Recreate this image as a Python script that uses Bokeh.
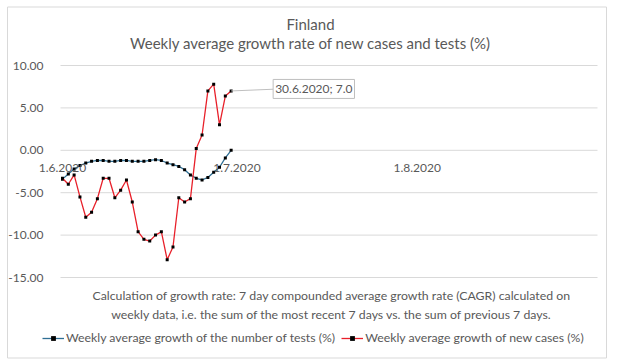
import pandas as pd
from bokeh.plotting import figure
from bokeh.models import (ColumnDataSource, Range1d, FixedTicker, NumeralTickFormatter,
                          CustomJSTickFormatter, Legend, LegendItem, Label)
from bokeh.embed import file_html
from bokeh.resources import INLINE

# ---------------- data ----------------
dates = pd.date_range("2020-06-01", "2020-06-30", freq="D")
tests_growth = [-3.4, -2.8, -2.2, -1.8, -1.5, -1.3, -1.2, -1.2, -1.3, -1.3,
                -1.2, -1.2, -1.3, -1.3, -1.3, -1.2, -1.1, -1.2, -1.5, -1.7,
                -1.9, -2.3, -2.9, -3.3, -3.5, -3.2, -2.6, -2.0, -0.9, 0.0]
cases_growth = [-3.3, -4.0, -2.9, -5.5, -7.9, -7.3, -5.7, -3.3, -3.3, -5.6,
                -4.7, -3.5, -6.1, -9.6, -10.5, -10.7, -10.0, -9.6, -12.9, -11.4,
                -5.6, -6.1, -5.7, 0.2, 1.8, 7.0, 7.8, 3.0, 6.4, 7.0]
x_tick_dates = ["2020-06-01", "2020-07-01", "2020-08-01"]
x_start, x_end = pd.Timestamp("2020-06-01"), pd.Timestamp("2020-09-01")
y_ticks = [-15, -10, -5, 0, 5, 10]
title_lines = ["Finland", "Weekly average growth rate of new cases and tests (%)"]
note_lines = ["Calculation of growth rate: 7 day compounded average growth rate (CAGR) calculated on",
              "weekly data, i.e. the sum of the most recent 7 days vs. the sum of previous 7 days."]
series_names = ["Weekly average growth of the number of tests (%)",
                "Weekly average growth of new cases (%)"]
label_text = "30.6.2020; 7.0"

FONT = "Lato"
GREY = "#595959"
GRID = "#D9D9D9"
BLUE = "#2F6F94"
RED = "#E8202A"

# ---------------- layout (pixels) ----------------
W, H = 612, 359                 # the frame covers the whole figure
X0_PX, X1_PX = 62, 597          # pixel columns of x_start and x_end
TOP_PX, BOT_PX = 65, 277        # pixel rows of the top and bottom gridlines
span_days = (x_end - x_start).days
ppd = (X1_PX - X0_PX) / span_days
ppu = (BOT_PX - TOP_PX) / (y_ticks[-1] - y_ticks[0])

def px_to_x(px):
    return x_start + pd.Timedelta(days=(px - X0_PX) / ppd)

def py_to_y(py):
    return y_ticks[-1] - (py - TOP_PX) / ppu

src = ColumnDataSource(dict(date=dates, tests=tests_growth, cases=cases_growth))

p = figure(frame_width=W, frame_height=H, output_backend="svg", toolbar_location=None,
           x_axis_type="datetime",
           x_range=Range1d(px_to_x(0), px_to_x(W)),
           y_range=Range1d(py_to_y(H), py_to_y(0)),
           min_border_left=0, min_border_right=0, min_border_top=0, min_border_bottom=0)
p.outline_line_color = None
p.background_fill_color = "white"
p.border_fill_color = "white"
p.grid.visible = False

# chart border
p.quad(left=[px_to_x(7)], right=[px_to_x(606)], top=[py_to_y(6.5)], bottom=[py_to_y(357.5)],
       fill_color=None, line_color=GRID, line_width=1, level="underlay")

# horizontal gridlines at the y ticks
n = len(y_ticks)
p.segment(x0=[px_to_x(60)] * n, x1=[x_end] * n, y0=y_ticks, y1=y_ticks,
          line_color=GRID, line_width=1, level="underlay")

# axes
p.yaxis.ticker = FixedTicker(ticks=y_ticks)
p.yaxis.formatter = NumeralTickFormatter(format="0.00")
p.yaxis.fixed_location = x_start.value // 10**6
p.xaxis.ticker = FixedTicker(ticks=[pd.Timestamp(d).value // 10**6 for d in x_tick_dates])
p.xaxis.formatter = CustomJSTickFormatter(code="""
const d = new Date(tick);
return d.getUTCDate() + "." + (d.getUTCMonth() + 1) + "." + d.getUTCFullYear();
""")
p.xaxis.fixed_location = 0
for ax in (p.xaxis, p.yaxis):
    ax.axis_line_color = None
    ax.major_tick_line_color = None
    ax.minor_tick_line_color = None
    ax.major_label_text_font = FONT
    ax.major_label_text_font_size = "12px"
    ax.major_label_text_color = GREY
p.yaxis.major_label_standoff = 13
p.xaxis.major_label_standoff = 8

# series
bl = p.line("date", "tests", source=src, line_color=BLUE, line_width=1.3)
bm = p.scatter("date", "tests", source=src, marker="square", size=3,
               fill_color="black", line_color=None)
rl = p.line("date", "cases", source=src, line_color=RED, line_width=1.3)
rm = p.scatter("date", "cases", source=src, marker="square", size=3,
               fill_color="black", line_color=None)

# data label with leader line
last_date = dates[-1]
last_val = cases_growth[-1]
p.segment(x0=[last_date], y0=[last_val], x1=[last_date + pd.Timedelta(days=7.2)],
          y1=[last_val + 0.2], line_color="#BFBFBF", line_width=1)
p.add_layout(Label(x=last_date, y=last_val, x_offset=42, y_offset=2, text=label_text,
                   text_font=FONT, text_font_size="12px", text_color=GREY,
                   text_baseline="middle", text_align="left",
                   border_line_color="#BFBFBF", background_fill_color="white",
                   padding=2))

# titles and footnote (screen units from the frame's bottom-left corner)
def add_text(txt, cx, cy, size):
    p.add_layout(Label(x=cx, y=H - cy, x_units="screen", y_units="screen",
                       text=txt, text_font=FONT, text_font_size=size, text_color=GREY,
                       text_align="center", text_baseline="middle"))

add_text(title_lines[0], 310, 23, "15px")
add_text(title_lines[1], 310, 42, "15px")
add_text(note_lines[0], 331, 295, "12.3px")
add_text(note_lines[1], 331, 314, "12.3px")

legend = Legend(items=[LegendItem(label=series_names[0], renderers=[bl, bm]),
                       LegendItem(label=series_names[1], renderers=[rl, rm])],
                orientation="horizontal", location=(42, H - 345),
                label_text_font=FONT, label_text_font_size="12.3px", label_text_color=GREY,
                glyph_width=22, glyph_height=12, spacing=6, padding=0, margin=0,
                border_line_color=None, background_fill_alpha=0,
                label_standoff=2, label_height=14)
p.add_layout(legend, "center")

open("out.html", "w").write(file_html(p, INLINE))
